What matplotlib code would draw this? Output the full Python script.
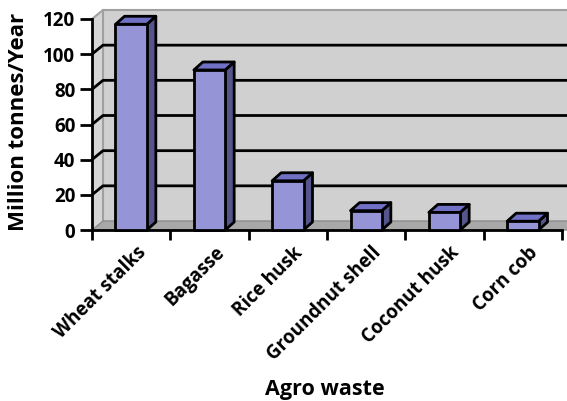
import matplotlib
matplotlib.use('Agg')
import matplotlib.pyplot as plt
from matplotlib.patches import Polygon, Rectangle
from matplotlib.transforms import offset_copy

categories = ["Wheat stalks", "Bagasse", "Rice husk", "Groundnut shell", "Coconut husk", "Corn cob"]
values = [117, 91, 28, 11, 10, 5]
yticks = [0, 20, 40, 60, 80, 100, 120]
ylabel = "Million tonnes/Year"
xlabel = "Agro waste"

plt.rcParams['font.family'] = ['Open Sans', 'DejaVu Sans']

W, H = 567, 401
fig = plt.figure(figsize=(W / 100, H / 100), dpi=100)
ax = fig.add_axes([92 / W, (H - 230) / H, (562 - 92) / W, (230 - 19) / H])
n = len(categories)
ax.set_xlim(-0.5, n - 0.5)
ax.set_ylim(yticks[0], yticks[-1])
ax.patch.set_visible(False)

o = ax.transData.transform((0, 0))
px_x = ax.transData.transform((1, 0))[0] - o[0]
px_y = ax.transData.transform((0, 1))[1] - o[1]
dxw, dyw = 11 / px_x, 9 / px_y      # wall depth
dxb, dyb = 9 / px_x, 8 / px_y       # bar depth

x0, x1 = -0.5, n - 0.5
ytop = yticks[-1]

# back wall
ax.add_patch(Rectangle((x0 + dxw, dyw), x1 - x0, ytop, facecolor='#D0D0D0',
                       edgecolor='none', zorder=0.5, clip_on=False))
# left wall
ax.add_patch(Polygon([(x0, 0), (x0, ytop), (x0 + dxw, ytop + dyw), (x0 + dxw, dyw)],
                     closed=True, facecolor='#D6D6D6', edgecolor='none', zorder=0.6, clip_on=False))
ax.plot([x0 + dxw, x0 + dxw], [dyw, ytop + dyw], color='#A0A0A0', lw=1.5, zorder=0.7, clip_on=False)
# top edges
ax.plot([x0, x0 + dxw, x1 + dxw + 1], [ytop, ytop + dyw, ytop + dyw], color='#A0A0A0', lw=1.5,
        zorder=0.7, clip_on=False)
# gridlines
for v in yticks[1:-1]:
    ax.plot([x0, x0 + dxw, x1 + dxw + 1], [v, v + dyw, v + dyw], color='black', lw=2.0,
            zorder=0.8, clip_on=False, solid_capstyle='butt')
# floor
ax.add_patch(Polygon([(x0, 0), (x1 + 0.2, 0), (x1 + 0.2 + dxw, dyw), (x0 + dxw, dyw)],
                     closed=True, facecolor='#A8A8A8', edgecolor='#8C8C8C', lw=1, zorder=0.9, clip_on=False))

# bars
bw = 0.4
front_c, top_c, side_c = '#9494D6', '#7070C4', '#55558C'
for i, v in enumerate(values):
    l, r = i - bw / 2, i + bw / 2
    kw = dict(closed=True, edgecolor='black', lw=2.0, joinstyle='round', zorder=3, clip_on=False)
    ax.add_patch(Polygon([(r, 0), (r + dxb, dyb), (r + dxb, v + dyb), (r, v)], facecolor=side_c, **kw))
    ax.add_patch(Polygon([(l, v), (l + dxb, v + dyb), (r + dxb, v + dyb), (r, v)], facecolor=top_c, **kw))
    ax.add_patch(Polygon([(l, 0), (r, 0), (r, v), (l, v)], facecolor=front_c, **kw))

for s in ['top', 'right']:
    ax.spines[s].set_visible(False)
for s in ['left', 'bottom']:
    ax.spines[s].set_linewidth(2)
    ax.spines[s].set_color('black')
    ax.spines[s].set_zorder(2.5)

ax.set_yticks(yticks)
ax.set_yticklabels([str(t) for t in yticks], fontweight='bold', fontsize=13.5)
ax.tick_params(axis='y', length=9, width=2, pad=3, direction='out')
ax.set_xticks([i - 0.5 for i in range(n + 1)])
ax.set_xticklabels([])
ax.tick_params(axis='x', length=7, width=2, direction='out')

tr = offset_copy(ax.transData, fig=fig, x=12, y=-20, units='dots')
for i, name in enumerate(categories):
    ax.text(i, 0, name, transform=tr, rotation=45, rotation_mode='anchor', ha='right', va='center',
            fontsize=13.5, fontweight='bold', clip_on=False)

fig.text(19 / W, 1 - 122 / H, ylabel, rotation=90, ha='center', va='center', fontsize=16, fontweight='bold')
fig.text(325 / W, 1 - 390 / H, xlabel, ha='center', va='center', fontsize=15.5, fontweight='bold')

fig.savefig('out.png', dpi=100, facecolor='white')
